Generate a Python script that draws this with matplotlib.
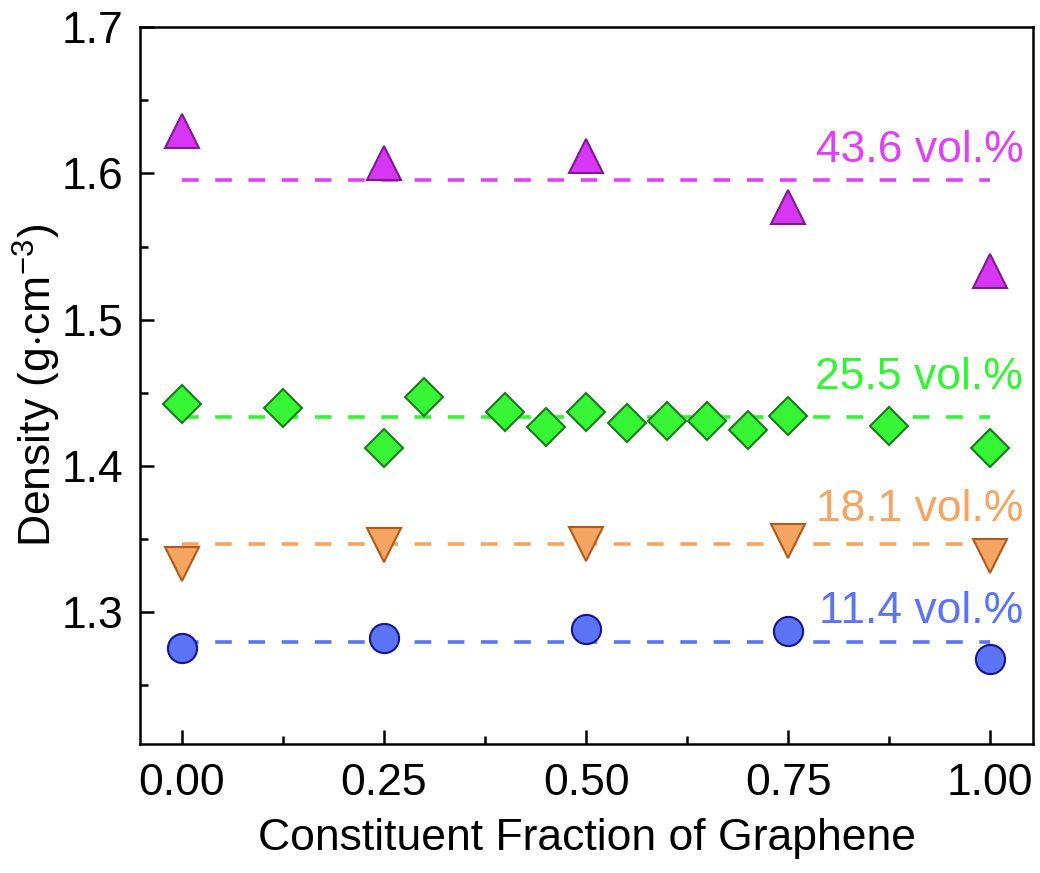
import numpy as np
import matplotlib
matplotlib.use('Agg')
import matplotlib.pyplot as plt
from matplotlib.ticker import MultipleLocator

plt.rcParams['font.family'] = ['Liberation Sans', 'DejaVu Sans']
plt.rcParams['mathtext.fontset'] = 'custom'
plt.rcParams['mathtext.rm'] = 'Liberation Sans'

# data
x_436 = [0.0, 0.25, 0.5, 0.75, 1.0]
y_436 = [1.629, 1.607, 1.612, 1.577, 1.533]

x_255 = [0.0, 0.125, 0.25, 0.3, 0.4, 0.45, 0.5, 0.55, 0.6, 0.65, 0.7, 0.75, 0.875, 1.0]
y_255 = [1.4425, 1.4397, 1.4123, 1.4473, 1.437, 1.4267, 1.437, 1.4295, 1.431,
         1.431, 1.4247, 1.4342, 1.4274, 1.4123]

x_181 = [0.0, 0.25, 0.5, 0.75, 1.0]
y_181 = [1.333, 1.3462, 1.3466, 1.3486, 1.3387]

x_114 = [0.0, 0.25, 0.5, 0.75, 1.0]
y_114 = [1.2753, 1.2822, 1.2884, 1.287, 1.268]

mean_x = [0.0, 1.0]
mean_levels = [1.5952, 1.4338, 1.3466, 1.2795]
labels = ['43.6 vol.%', '25.5 vol.%', '18.1 vol.%', '11.4 vol.%']
label_y = [1.6075, 1.4527, 1.3623, 1.2925]

series = [
    (x_436, y_436, '^', 24, '#d736f5', '#7d1a8c', '#e040fb'),
    (x_255, y_255, 'D', 19, '#35f535', '#1a7a1a', '#33f533'),
    (x_181, y_181, 'v', 24, '#f5a462', '#b05a1a', '#f5a462'),
    (x_114, y_114, 'o', 21, '#5a74f5', '#14148c', '#5a74f5'),
]

fs = 32

fig = plt.figure(figsize=(10.4, 8.73), dpi=100)
ax = fig.add_axes([0.1346, 0.1478, 0.8587, 0.8212])

for i, (xs, ys, m, ms, fc, ec, lc) in enumerate(series):
    ax.plot(mean_x, [mean_levels[i]] * 2, color=lc, lw=2.6,
            dashes=(4.6, 4.6), zorder=1)
    ax.plot(xs, ys, linestyle='none', marker=m, markersize=ms,
            markerfacecolor=fc, markeredgecolor=ec, markeredgewidth=1.5, zorder=3)
    ax.text(1.041, label_y[i], labels[i], color=lc, fontsize=fs,
            ha='right', va='baseline', zorder=2)

ax.set_xlim(-0.052, 1.053)
ax.set_ylim(1.21, 1.7)
ax.xaxis.set_major_locator(MultipleLocator(0.25))
ax.xaxis.set_minor_locator(MultipleLocator(0.125))
ax.yaxis.set_major_locator(MultipleLocator(0.1))
ax.yaxis.set_minor_locator(MultipleLocator(0.05))
ax.xaxis.set_major_formatter(matplotlib.ticker.FormatStrFormatter('%.2f'))
ax.yaxis.set_major_formatter(matplotlib.ticker.FormatStrFormatter('%.1f'))

ax.tick_params(which='both', direction='in', width=1.8, labelsize=fs,
               top=False, right=False)
ax.tick_params(which='major', length=10)
ax.tick_params(which='minor', length=5.5)
ax.tick_params(axis='y', pad=12)
ax.tick_params(axis='x', pad=14)
for s in ax.spines.values():
    s.set_linewidth(1.8)

ax.set_xlabel('Constituent Fraction of Graphene', fontsize=fs, labelpad=10)
ax.set_ylabel(r'Density (g$\cdot$cm$^{-3}$)', fontsize=fs, labelpad=-1)

fig.savefig('out.png', dpi=100)
